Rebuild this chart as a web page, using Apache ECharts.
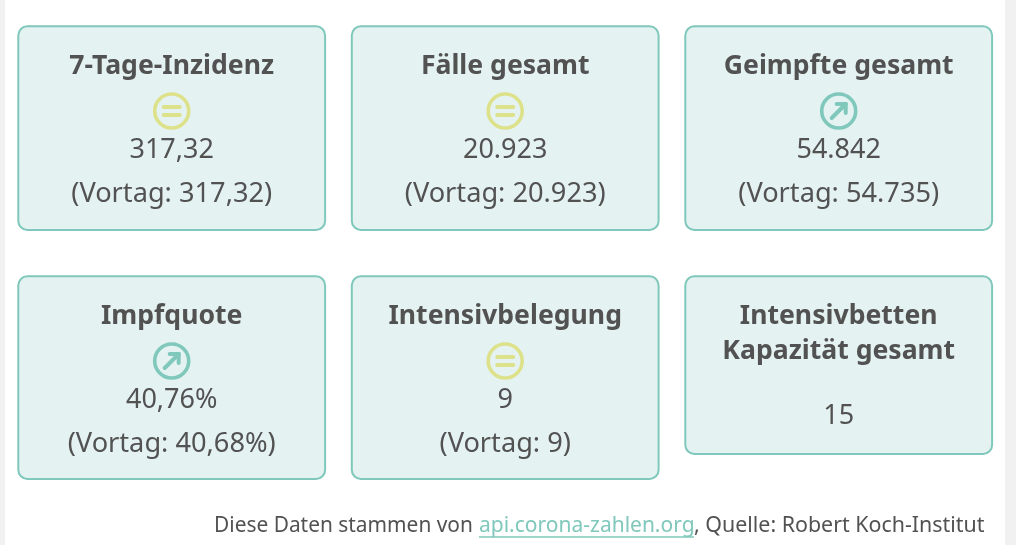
<!DOCTYPE html>
<html><head><meta charset="utf-8">
<style>html,body{margin:0;padding:0;background:#fff}#c{width:1016px;height:545px}</style>
<script src="https://cdn.jsdelivr.net/npm/echarts@6/dist/echarts.min.js"></script>
</head><body><div id="c"></div>
<script>
const titles = [["7-Tage-Inzidenz"],["Fälle gesamt"],["Geimpfte gesamt"],["Impfquote"],["Intensivbelegung"],["Intensivbetten","Kapazität gesamt"]];
const values = ["317,32","20.923","54.842","40,76%","9","15"];
const previous = ["317,32","20.923","54.735","40,68%","9",null];
const trends = ["equal","equal","up","up","equal",null];
const footer = ["Diese Daten stammen von ","api.corona-zahlen.org",", Quelle: Robert Koch-Institut"];

const FONT = '"Noto Sans", sans-serif', INK = '#525252', TEAL = '#7fc8bb', YEL = '#dde28a';
const colX = [17.3,350.8,684.3], rowY = [25.3,275.3], W = 308.8, heights = [[205.6,205.6,205.6],[204.6,204.6,179.6]];
const els = [];
const text = (x,y,s,size,weight,fill,align) => els.push({type:'text',x,y,style:{text:s,font:`${weight} ${size}px ${FONT}`,fill:fill||INK,textAlign:align||'center',textVerticalAlign:'middle'}});
const line = (x1,y1,x2,y2,c,w) => els.push({type:'line',shape:{x1,y1,x2,y2},style:{stroke:c,lineWidth:w,lineCap:'round'}});

els.push({type:'rect',shape:{x:0,y:0,width:5,height:545},style:{fill:'#f1f1f1'}});
els.push({type:'rect',shape:{x:1005,y:0,width:11,height:545},style:{fill:'#f1f1f1'}});

titles.forEach((t,i)=>{
  const c=i%3,r=Math.floor(i/3),x=colX[c],y=rowY[r],h=heights[r][c],cx=x+W/2;
  els.push({type:'rect',shape:{x:x+1,y:y+1,width:W-2,height:h-2,r:9},style:{fill:'#e4f2f1',stroke:TEAL,lineWidth:2}});
  t.forEach((s,k)=>text(cx,y+41+k*35,s,26.6,'700'));
  const iy=y+85.7;
  if(trends[i]==='equal'){
    els.push({type:'circle',shape:{cx,cy:iy,r:17},style:{fill:'none',stroke:YEL,lineWidth:3.6}});
    line(cx-8,iy-4,cx+8,iy-4,YEL,4); line(cx-8,iy+4,cx+8,iy+4,YEL,4);
  } else if(trends[i]==='up'){
    els.push({type:'circle',shape:{cx,cy:iy,r:17},style:{fill:'none',stroke:TEAL,lineWidth:3.6}});
    line(cx-7,iy+7,cx+7,iy-7,TEAL,4); line(cx-2,iy-7,cx+7,iy-7,TEAL,4); line(cx+7,iy-7,cx+7,iy+2,TEAL,4);
  }
  text(cx,i===5?y+141:y+125.5,values[i],27,'400');
  if(previous[i]) text(cx,y+168.5,`(Vortag: ${previous[i]})`,27.2,'400');
});

text(214,526,footer[0],20.9,'400',INK,'left');
text(479,526,footer[1],21,'400',TEAL,'left');
text(694,526,footer[2],21.4,'400',INK,'left');
els.push({type:'line',shape:{x1:479,y1:537,x2:694,y2:537},style:{stroke:TEAL,lineWidth:1.5}});

const chart = echarts.init(document.getElementById('c'),null,{renderer:'canvas'});
chart.setOption({animation:false,backgroundColor:'#ffffff',graphic:{elements:els}});
</script></body></html>
